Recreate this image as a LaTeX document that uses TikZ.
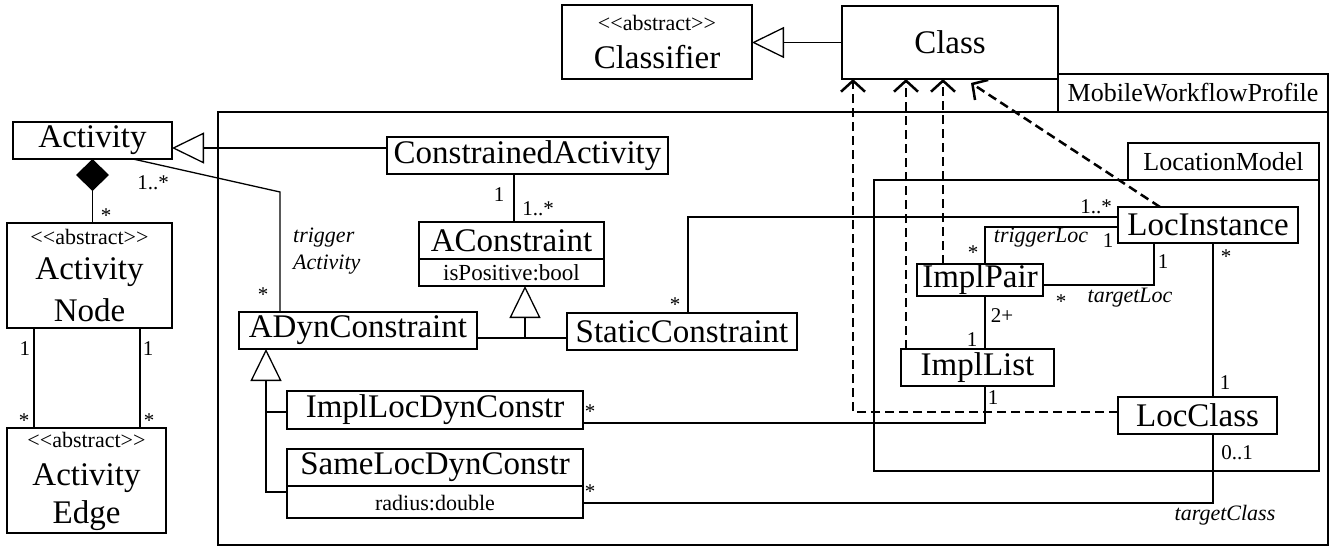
\documentclass[tikz,border=0pt]{standalone}
\usepackage{fontspec}
\setmainfont{Liberation Serif}[Ligatures=TeXOff]
\usetikzlibrary{arrows.meta}
\tikzset{
 box/.style={draw, line width=1.3pt, inner sep=0pt, outer sep=0pt, font=\fontsize{33}{38}\selectfont},
 nm/.style={font=\fontsize{33}{38}\selectfont, inner sep=0pt},
 st/.style={font=\fontsize{22}{26}\selectfont, inner sep=0pt},
 attrtxt/.style={font=\fontsize{23}{27}\selectfont, inner sep=0pt},
 mult/.style={font=\fontsize{21}{24}\selectfont, inner sep=0pt},
 role/.style={font=\fontsize{22}{26}\selectfont\itshape, inner sep=0pt},
 pk/.style={font=\fontsize{26}{30}\selectfont, inner sep=0pt},
 ln/.style={line width=1.3pt},
 gen/.style={ln, -{Triangle[open, length=32pt, width=31pt]}},
 dep/.style={line width=2.5pt, dash pattern=on 9pt off 5pt, -{Straight Barb[length=11pt, width=24pt]}},
}
\begin{document}
\begin{tikzpicture}[x=1pt,y=-1pt]
\useasboundingbox (0,0) rectangle (1331,546);

% packages
\node[box, minimum width=1110pt, minimum height=433pt] (mwp) at (773,328.5) {};
\node[box, pk, minimum width=270pt, minimum height=38pt] (mwptab) at (1193,93) {MobileWorkflowProfile};
\node[box, minimum width=445pt, minimum height=291pt] (lm) at (1096.5,325.5) {};
\node[box, pk, minimum width=191pt, minimum height=37pt] (lmtab) at (1223.5,161.5) {LocationModel};

% classes top
\node[box, minimum width=190pt, minimum height=74pt] (clf) at (657,42) {};
\node[st] (clf1) at (657,23) {<{}<abstract>{}>};
\node[nm] (clf2) at (657,57) {Classifier};
\node[box, minimum width=216pt, minimum height=73pt] (cls) at (950,42.5) {Class};

% left column
\node[box, minimum width=159pt, minimum height=37pt] (act) at (92.5,140.5) {Activity};
\node[box, minimum width=165pt, minimum height=105pt] (an) at (89.5,275.5) {};
\node[st] (an1) at (89.5,237) {<{}<abstract>{}>};
\node[nm] (an2) at (89.5,272) {Activity};
\node[nm] (an3) at (89.5,310) {Node};
\node[box, minimum width=159pt, minimum height=105pt] (ae) at (86.5,480.5) {};
\node[st] (ae1) at (86.5,440) {<{}<abstract>{}>};
\node[nm] (ae2) at (86.5,478) {Activity};
\node[nm] (ae3) at (86.5,516) {Edge};

% middle
\node[box, minimum width=281pt, minimum height=37pt] (ca) at (527.5,155.5) {ConstrainedActivity};
\node[box, minimum width=185pt, minimum height=64pt] (ac) at (511.5,254) {};
\node[nm] (ac1) at (511.5,241) {AConstraint};
\node[attrtxt] (ac2) at (511.5,273) {isPositive:bool};
\draw[ln] (ac.west |- 0,259) -- (ac.east |- 0,259);
\node[box, minimum width=238pt, minimum height=37pt] (adc) at (358,330.5) {ADynConstraint};
\node[box, minimum width=230pt, minimum height=37pt] (sc) at (682,331.5) {StaticConstraint};
\node[box, minimum width=296pt, minimum height=38pt] (ild) at (435,410) {ImplLocDynConstr};
\node[box, minimum width=296pt, minimum height=69pt] (sld) at (435,483.5) {};
\node[nm] (sld1) at (435,467) {SameLocDynConstr};
\node[st] (sld2) at (435,503) {radius:double};
\draw[ln] (sld.west |- 0,486) -- (sld.east |- 0,486);

% right
\node[box, minimum width=180pt, minimum height=36pt] (li) at (1208,225) {LocInstance};
\node[box, minimum width=126pt, minimum height=32pt] (ip) at (980,280) {ImplPair};
\node[box, minimum width=153pt, minimum height=37pt] (il) at (977.5,367.5) {ImplList};
\node[box, minimum width=159pt, minimum height=37pt] (lc) at (1197.5,415.5) {LocClass};

% generalizations
\draw[gen] (cls.west) -- (cls.west -| clf.east);
\coordinate (g1) at (300,148);
\draw[gen] (g1 -| ca.west) -- (g1 -| act.east);
\coordinate (j1) at (525,338);
\draw[ln] (j1 -| adc.east) -- (j1 -| sc.west);
\draw[gen] (j1) -- (j1 |- ac.south);
\coordinate (b8) at (266,412);
\coordinate (b9) at (266,492);
\draw[ln] (b8 -| ild.west) -- (b8);
\draw[gen] (b9 -| sld.west) -- (b9) -- (b9 |- adc.south);

% composition
\draw[ln, {Diamond[length=32pt, width=33pt]}-] (act.south) -- (act.south |- an.north);
\node[mult] (m1) at (153,183) {1..*};
\node[mult] (m2) at (106,216) {*};

% ActivityNode - ActivityEdge
\coordinate (k1) at (34,0);
\coordinate (k2) at (140,0);
\draw[ln] (k1 |- an.south) -- (k1 |- ae.north);
\draw[ln] (k2 |- an.south) -- (k2 |- ae.north);
\node[mult] (m3) at (25,349) {1};
\node[mult] (m4) at (148,349) {1};
\node[mult] (m5) at (24,421) {*};
\node[mult] (m6) at (149,421) {*};

% trigger activity
\coordinate (bend1) at (280,192);
\draw[ln] ([xshift=40.5pt]act.south) -- (bend1) -- (bend1 |- adc.north);
\node[role, anchor=west] (r1) at (293,238) {trigger};
\node[role, anchor=west] (r2) at (293,265) {Activity};
\node[mult] (m7) at (263,295) {*};

% ConstrainedActivity - AConstraint
\coordinate (k3) at (514,0);
\draw[ln] (k3 |- ca.south) -- (k3 |- ac.north);
\node[mult] (m8) at (499,195) {1};
\node[mult] (m9) at (538,209) {1..*};

% StaticConstraint - LocInstance
\coordinate (b2) at (688,217);
\draw[ln] (b2 |- sc.north) -- (b2) -- (b2 -| li.west);
\node[mult] (m10) at (675,305) {*};
\node[mult] (m11) at (1096,207) {1..*};

% triggerLoc
\coordinate (b3) at (985,227);
\draw[ln] (b3 -| li.west) -- (b3) -- (b3 |- ip.north);
\node[role] (r3) at (1041,238) {triggerLoc};
\node[mult] (m12) at (1108,241) {1};
\node[mult] (m13) at (973,253) {*};

% targetLoc
\coordinate (b4) at (1154,285);
\draw[ln] (b4 -| ip.east) -- (b4) -- (b4 |- li.south);
\node[role] (r4) at (1130,298) {targetLoc};
\node[mult] (m14) at (1163,262) {1};
\node[mult] (m15) at (1061,302) {*};

% ImplPair - ImplList
\draw[ln] (b3 |- ip.south) -- (b3 |- il.north);
\node[mult] (m16) at (1002,316) {2+};
\node[mult] (m17) at (972,340) {1};

% LocInstance - LocClass
\coordinate (b5) at (1213,0);
\draw[ln] (b5 |- li.south) -- (b5 |- lc.north);
\node[mult] (m18) at (1226,257) {*};
\node[mult] (m19) at (1225,383) {1};

% ImplLocDynConstr - ImplList
\coordinate (b6) at (985,423);
\draw[ln] (b6 -| ild.east) -- (b6) -- (b6 |- il.south);
\node[mult] (m20) at (590,412) {*};
\node[mult] (m21) at (993,398) {1};

% SameLocDynConstr - LocClass
\coordinate (b7) at (1213,503);
\draw[ln] (b7 -| sld.east) -- (b7) -- (b7 |- lc.south);
\node[mult] (m22) at (590,492) {*};
\node[mult] (m23) at (1237,453) {0..1};
\node[role] (r5) at (1225,515) {targetClass};

% dependencies
\coordinate (d1) at (853,412);
\draw[dep] (d1 -| lc.west) -- (d1) -- (d1 |- cls.south);
\coordinate (d2) at (906,0);
\draw[dep] (d2 |- il.north) -- (d2 |- cls.south);
\coordinate (d3) at (943,0);
\draw[dep] (d3 |- ip.north) -- (d3 |- cls.south);
\draw[dep] ([xshift=-48pt]li.north) -- ([xshift=21pt,yshift=-4pt]cls.south);
\end{tikzpicture}
\end{document}
